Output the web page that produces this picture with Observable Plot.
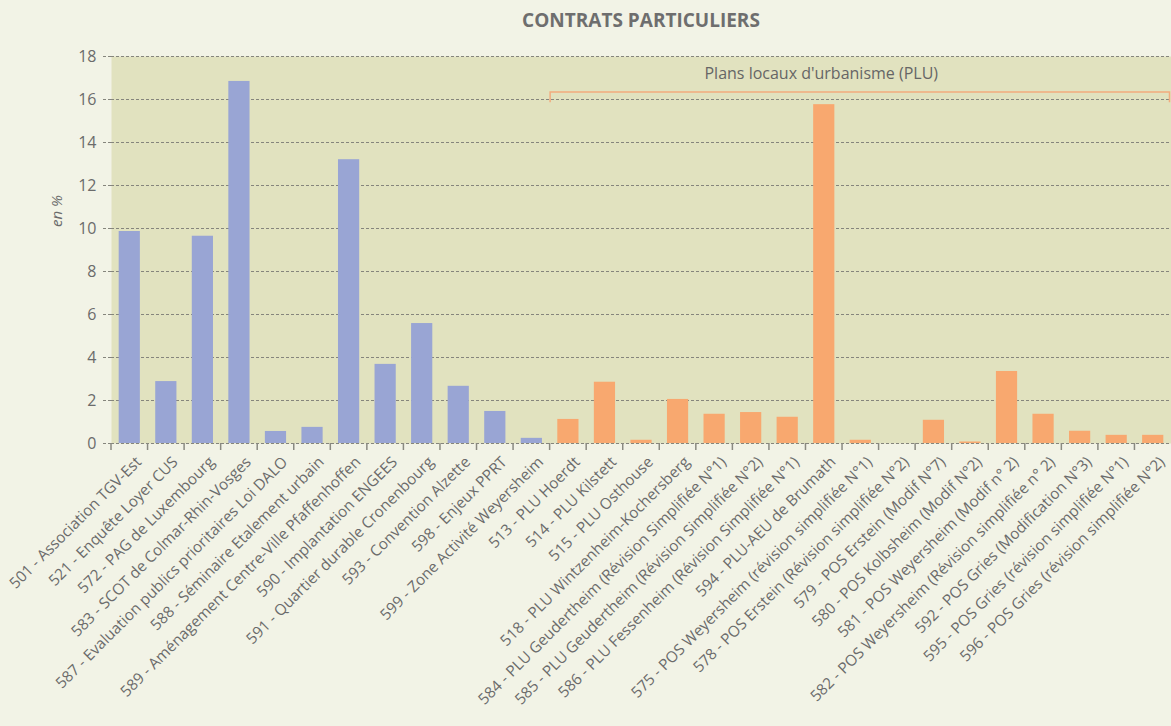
<!DOCTYPE html>
<html><head><meta charset="utf-8">
<script src="https://cdn.jsdelivr.net/npm/d3@7"></script>
<script src="https://cdn.jsdelivr.net/npm/@observablehq/plot@0.6"></script>
<style>
html,body{margin:0;padding:0;background:#F2F3E6;overflow:hidden;}
#title{font:bold 19px "Open Sans",sans-serif;height:40px;line-height:40px;padding-left:111px;text-align:center;color:#6e6e6e;}
</style></head><body>
<div id="title">CONTRATS PARTICULIERS</div>
<div id="chart"></div>
<script>
const categories = [
  "501 - Association TGV-Est",
  "521 - Enquête Loyer CUS",
  "572 - PAG de Luxembourg",
  "583 - SCOT de Colmar-Rhin-Vosges",
  "587 - Evaluation publics prioritaires Loi DALO",
  "588 - Séminaire Etalement urbain",
  "589 - Aménagement Centre-Ville Pfaffenhoffen",
  "590 - Implantation ENGEES",
  "591 - Quartier durable Cronenbourg",
  "593 - Convention Alzette",
  "598 - Enjeux PPRT",
  "599 - Zone Activité Weyersheim",
  "513 - PLU Hoerdt",
  "514 - PLU Kilstett",
  "515 - PLU Osthouse",
  "518 - PLU Wintzenheim-Kochersberg",
  "584 - PLU Geudertheim (Révision Simplifiée N°1)",
  "585 - PLU Geudertheim (Révision Simplifiée N°2)",
  "586 - PLU Fessenheim (Révision Simplifiée N°1)",
  "594 - PLU-AEU de Brumath",
  "575 - POS Weyersheim (révision simplifiée N°1)",
  "578 - POS Erstein (Révision simplifiée N°2)",
  "579 - POS Erstein (Modif N°7)",
  "580 - POS Kolbsheim (Modif N°2)",
  "581 - POS Weyersheim (Modif n° 2)",
  "582 - POS Weyersheim (Révision simplifiée n° 2)",
  "592 - POS Gries (Modification N°3)",
  "595 - POS Gries (révision simplifiée N°1)",
  "596 - POS Gries (révision simplifiée N°2)"
];
const values = [9.86, 2.88, 9.64, 16.84, 0.56, 0.75, 13.2, 3.68, 5.58, 2.66, 1.49, 0.24,
                1.12, 2.85, 0.15, 2.05, 1.36, 1.44, 1.22, 15.76, 0.15, 0, 1.08, 0.07, 3.35, 1.36, 0.57, 0.38, 0.38];
const groups = ["Autres","Autres","Autres","Autres","Autres","Autres","Autres","Autres","Autres","Autres","Autres","Autres",
                "PLU","PLU","PLU","PLU","PLU","PLU","PLU","PLU","PLU","PLU","PLU","PLU","PLU","PLU","PLU","PLU","PLU"];
const groupNames = ["Autres", "PLU"];
const groupColors = ["#99A5D4", "#F8A86F"];
const yTicks = [0, 2, 4, 6, 8, 10, 12, 14, 16, 18];
const yLabel = "en %";
const annotationText = "Plans locaux d'urbanisme (PLU)";
const annotationCategory = "594 - PLU-AEU de Brumath";
const annotationLevel = 17.2;
const bracketLevel = 16.33;
const bracketTickLevel = 15.85;

const data = categories.map((c, i) => ({category: c, value: values[i], group: groups[i]}));
const plu = data.filter(d => d.group === "PLU");

const W = 1171, H = 686, ML = 111, MR = 0, MT = 16, MB = 283;

function extras(index, scales, values, dims) {
  const x = scales.x, y = scales.y;
  const n = categories.length;
  const st = (dims.width - dims.marginLeft - dims.marginRight) / n;
  const bw = typeof x.bandwidth === "function" ? x.bandwidth() : st * 0.58;
  const edge = c => x(c) - (st - bw) / 2;
  const g = d3.create("svg:g");
  const y0 = y(0);
  g.append("g").attr("stroke", "#8a8a80").attr("stroke-width", 1.5)
    .selectAll("line").data(categories).join("line")
    .attr("x1", c => edge(c)).attr("x2", c => edge(c))
    .attr("y1", y0).attr("y2", y0 + 7);
  const xa = edge(plu[0].category) + 0.5;
  const xb = Math.min(edge(plu[plu.length - 1].category) + st, dims.width) - 1.5;
  const yb = y(bracketLevel), yt = y(bracketTickLevel);
  g.append("path")
    .attr("fill", "none").attr("stroke", "#F2AC7E").attr("stroke-width", 1.5)
    .attr("d", `M${xa},${yt}V${yb}H${xb}V${yt}`);
  return g.node();
}

const chart = Plot.plot({
  width: W, height: H,
  marginLeft: ML, marginRight: MR, marginTop: MT, marginBottom: MB,
  style: {background: "transparent", fontFamily: "'Open Sans', sans-serif", color: "#6b6b6b", overflow: "visible"},
  x: {domain: categories, paddingInner: 0.42, paddingOuter: 0.21, round: false, label: null},
  y: {domain: [0, 18], label: null},
  color: {domain: groupNames, range: groupColors},
  marks: [
    Plot.frame({fill: "#E1E2BF", stroke: null}),
    Plot.gridY(yTicks, {stroke: "#85857c", strokeOpacity: 1, strokeWidth: 1.2, strokeDasharray: "3,2"}),
    Plot.axisY(yTicks, {tickSize: 8, tickPadding: 7, stroke: "#85857c", strokeWidth: 1.2, strokeDasharray: "3,2", fill: "#6b6b6b", fontSize: 16, label: null}),
    Plot.barY(data, {x: "category", y: "value", fill: "group"}),
    extras,
    Plot.axisX({tickRotate: -45, tickSize: 0, tickPadding: 8, dx: 9, dy: 8, fontSize: 15.3, fill: "#6b6b6b", label: null}),
    Plot.text([{t: annotationText, c: annotationCategory, v: annotationLevel}], {x: "c", y: "v", text: "t", fontSize: 16, fill: "#666666", dx: -3}),
    Plot.text([yLabel], {frameAnchor: "left", rotate: -90, dx: -54, dy: -23, fontSize: 15, fontStyle: "italic", fill: "#6b6b6b"})
  ]
});
document.getElementById("chart").appendChild(chart);
</script>
</body></html>
